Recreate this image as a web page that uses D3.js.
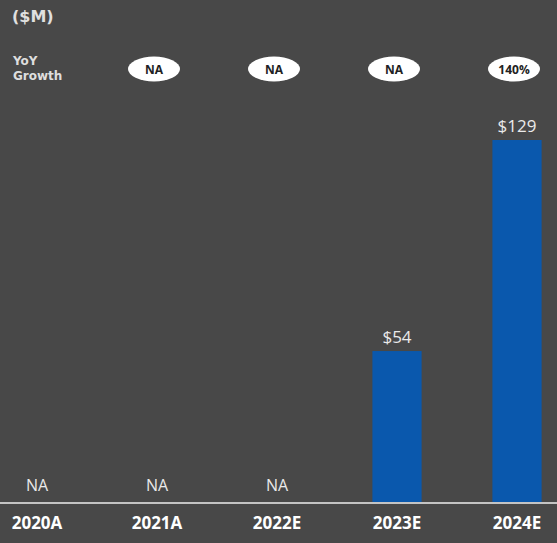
<!DOCTYPE html>
<html><head><meta charset="utf-8">
<script src="https://cdn.jsdelivr.net/npm/d3@7"></script>
<style>
html,body{margin:0;padding:0;background:#474747;}
svg{display:block;}
</style></head>
<body>
<svg id="chart" width="557" height="543"></svg>
<script>
const categories = ["2020A","2021A","2022E","2023E","2024E"];
const values = [null, null, null, 54, 129];
const valueLabels = ["NA","NA","NA","$54","$129"];
const growthLabels = [null, "NA","NA","NA","140%"];

const W = 557, H = 543;
const svg = d3.select("#chart");
const font = "'Open Sans', 'DejaVu Sans', sans-serif";
const wide = "'DejaVu Sans', sans-serif";

// background
svg.append("rect").attr("width", W).attr("height", H).attr("fill", "#484848");

const x = d3.scaleBand().domain(categories).range([-23, 577]).paddingInner(0.59).paddingOuter(0.295);
const y = d3.scaleLinear().domain([0, 129]).range([503, 140]);

// bars
svg.selectAll("rect.bar").data(categories.map((c,i)=>({c, v: values[i]})).filter(d=>d.v!=null))
  .enter().append("rect").attr("class","bar")
  .attr("x", d => x(d.c)).attr("width", x.bandwidth())
  .attr("y", d => y(d.v)).attr("height", d => y(0) - y(d.v))
  .attr("fill", "#0a58ad");

// value labels
svg.selectAll("text.val").data(categories.map((c,i)=>({c, v: values[i], l: valueLabels[i]})))
  .enter().append("text").attr("class","val")
  .attr("x", d => x(d.c) + x.bandwidth()/2)
  .attr("y", d => d.v == null ? y(0) - 12 : y(d.v) - 8)
  .attr("text-anchor","middle")
  .attr("font-family", font).attr("font-size", d => d.v==null ? 16 : 17)
  .attr("fill", "#eaeaea")
  .text(d => d.l);

// baseline axis
const axis = svg.append("g").attr("transform", `translate(0,${y(0)})`)
  .call(d3.axisBottom(x).tickSize(0).tickPadding(14));
axis.select(".domain").attr("stroke", "#c4c4c4").attr("stroke-width", 2).attr("d", `M0,0H${W}`);
axis.selectAll(".tick text").attr("font-family", font).attr("font-size", 17)
  .attr("font-weight", 700).attr("fill", "#ffffff");

// ($M)
svg.append("text").attr("x", 12).attr("y", 22).attr("font-family", wide)
  .attr("font-size", 16).attr("font-weight", 700).attr("fill", "#e0e0e0").text("($M)");
// YoY Growth
svg.append("text").attr("x", 13).attr("y", 65).attr("font-family", wide)
  .attr("font-size", 12).attr("font-weight", 700).attr("fill", "#dedede").text("YoY");
svg.append("text").attr("x", 13).attr("y", 80).attr("font-family", wide)
  .attr("font-size", 12).attr("font-weight", 700).attr("fill", "#dedede").text("Growth");

// growth ellipses
const g = svg.selectAll("g.growth").data(categories.map((c,i)=>({c, l: growthLabels[i]})).filter(d=>d.l!=null))
  .enter().append("g").attr("class","growth")
  .attr("transform", d => `translate(${x(d.c) + x.bandwidth()/2 - 3},69)`);
g.append("ellipse").attr("rx", 26).attr("ry", 12.5).attr("fill", "#ffffff");
g.append("text").attr("text-anchor","middle").attr("dy", 4.5)
  .attr("font-family", font).attr("font-size", 12).attr("font-weight", 700)
  .attr("fill", "#222").text(d => d.l);
</script>
</body></html>
